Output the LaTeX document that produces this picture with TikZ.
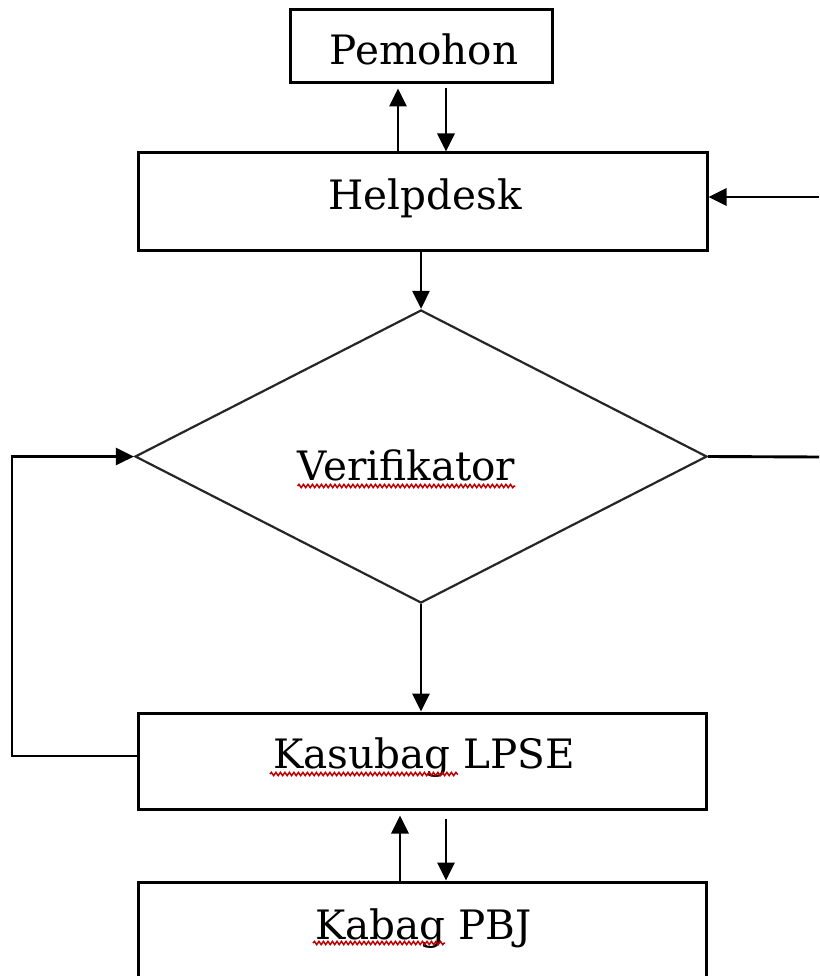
\documentclass[tikz,border=0pt]{standalone}
\usepackage{fontspec}
\setmainfont{DejaVu Serif}
\usetikzlibrary{shapes.geometric,arrows.meta,calc,decorations.pathmorphing}
\tikzset{
  box/.style={draw=black, line width=3pt, rectangle, inner sep=0pt},
  dec/.style={draw=black!85, line width=2.2pt, diamond, inner sep=0pt, aspect=2},
  lbl/.style={anchor=base, inner sep=0pt, font=\fontsize{40.5}{45}\selectfont},
  conn/.style={draw=black, line width=2.9pt},
  arr/.style={conn, -{Triangle[length=18pt,width=17pt]}},
  squig/.style={draw=red!75!black, line width=1.5pt, decorate,
    decoration={snake, segment length=4.5pt, amplitude=1.6pt}}
}
\begin{document}
\begin{tikzpicture}[x=1pt,y=-1pt]
\useasboundingbox (0,0) rectangle (819,976);
\clip (0,0) rectangle (819,976);
\fill[white] (0,0) rectangle (819,976);
% shapes
\node[box, minimum width=262pt, minimum height=73pt] (pem) at (421,46.5) {};
\node[box, minimum width=569pt, minimum height=97pt] (help) at (422.5,201.5) {};
\node[dec, minimum width=572pt, minimum height=293pt] (ver) at (421,456.5) {};
\node[box, minimum width=568pt, minimum height=96pt] (kas) at (422,761) {};
\node[box, minimum width=568pt, minimum height=104pt] (kab) at (422,934) {};
% texts
\node[lbl] (tpem) at (424,65) {Pemohon};
\node[lbl] (thelp) at (425,210) {Helpdesk};
\node[lbl] (tver) at (406.5,480) {Verifikator};
\node[lbl] (tkas) at (424,768) {Kasubag LPSE};
\node[lbl] (tkab) at (423.5,939) {Kabag PBJ};
% spell-check underlines
\draw[squig] ($(tver.base west)+(0,6)$) -- ($(tver.base east)+(0,6)$);
\draw[squig] ($(tkas.base west)+(-3,6)$) -- ++(188,0);
\draw[squig] ($(tkab.base west)+(-2,4)$) -- ++(132,0);
% helper coordinates
\coordinate (xl) at (398,0);
\coordinate (xr) at (446,0);
\coordinate (xl2) at (400,0);
\coordinate (lx) at (12,0);
\coordinate (rin) at (819,197);
\coordinate (rout) at (819,457);
% connectors
\draw[arr] (help.north -| xl) -- ($(pem.south -| xl)+(0,4)$);
\draw[arr] ($(pem.south -| xr)+(0,4)$) -- (help.north -| xr);
\draw[arr] (rin) -- (help.east |- rin);
\draw[arr] (help.south -| ver.north) -- (ver.north);
\draw[conn] (ver.east) -- (rout);
\draw[arr] (ver.south) -- (kas.north -| ver.south);
\draw[arr] ($(kas.west)+(0,-5)$) -- ($(kas.west -| lx)+(0,-5)$) -- (ver.west -| lx) -- (ver.west);
\draw[arr] (kab.north -| xl2) -- ($(kas.south -| xl2)+(0,5)$);
\draw[arr] ($(kas.south -| xr)+(0,8)$) -- (kab.north -| xr);
\end{tikzpicture}
\end{document}
